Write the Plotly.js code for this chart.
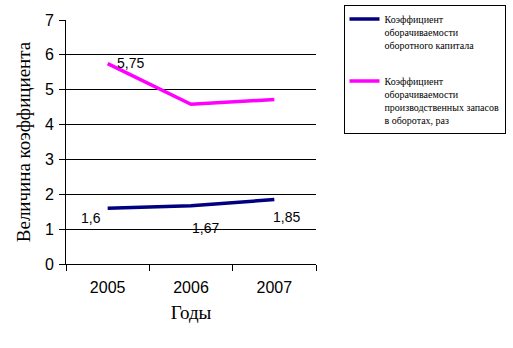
<!DOCTYPE html>
<html>
<head>
<meta charset="utf-8">
<script src="https://cdn.plot.ly/plotly-3.0.1.min.js"></script>
<style>html,body{margin:0;padding:0;background:#fff;}#chart{width:513px;height:348px;}</style>
</head>
<body>
<div id="chart"></div>
<script>
var years = ['2005', '2006', '2007'];
var capitalTurnover = [1.6, 1.67, 1.85];
var inventoryTurnover = [5.75, 4.58, 4.72];
var seriesNames = [
  'Коэффициент<br>оборачиваемости<br>оборотного капитала',
  'Коэффициент<br>оборачиваемости<br>производственных запасов<br>в оборотах, раз'
];
var yTicks = [0, 1, 2, 3, 4, 5, 6, 7];

// label placement (pixel offsets), kept separate from data
var capOffsets = [[-17, -10], [14, -22], [12, -17]];

function fmt(v) { return String(v).replace('.', ','); }

var annotations = [];
capitalTurnover.forEach(function (v, i) {
  annotations.push({
    x: i, y: v, xref: 'x', yref: 'y', text: fmt(v), showarrow: false,
    xshift: capOffsets[i][0], yshift: capOffsets[i][1],
    font: {family: 'Liberation Sans, Arial', size: 14, color: '#000'}
  });
});
annotations.push({
  x: 0, y: inventoryTurnover[0], xref: 'x', yref: 'y', text: fmt(inventoryTurnover[0]),
  showarrow: false, xanchor: 'left', xshift: 7, yshift: 1,
  font: {family: 'Liberation Sans, Arial', size: 14, color: '#000'}
});

var traces = [
  {x: years, y: capitalTurnover, type: 'scatter', mode: 'lines', name: seriesNames[0],
   line: {color: '#000080', width: 3.5}, legendgroup: 'a'},
  {x: years, y: inventoryTurnover, type: 'scatter', mode: 'lines', name: seriesNames[1],
   line: {color: '#FF00FF', width: 3.5}, legendgroup: 'b'}
];

var layout = {
  width: 513, height: 348,
  margin: {l: 66, r: 197, t: 20, b: 84, autoexpand: false},
  paper_bgcolor: '#fff', plot_bgcolor: '#fff',
  showlegend: true,
  legend: {
    x: 1.11, y: 1.061, xanchor: 'left', yanchor: 'top',
    bordercolor: '#000', borderwidth: 1, bgcolor: '#fff',
    font: {family: 'Liberation Serif, Times New Roman', size: 10, color: '#000'},
    valign: 'top', traceorder: 'grouped', tracegroupgap: 20
  },
  xaxis: {
    type: 'category', tickson: 'boundaries', ticks: 'outside', ticklen: 6, tickcolor: '#000',
    showline: true, linecolor: '#000', linewidth: 1, showgrid: false, zeroline: false,
    tickfont: {family: 'Liberation Sans, Arial', size: 16, color: '#000'},
    ticklabelstandoff: 9,
    range: [-0.5, 2.5],
    title: {text: 'Годы', font: {family: 'Liberation Serif, Times New Roman', size: 19, color: '#000'}, standoff: 10}
  },
  yaxis: {
    range: [0, 7], tickvals: yTicks, ticks: 'outside', ticklen: 6, tickcolor: '#000',
    showline: true, linecolor: '#000', linewidth: 1,
    showgrid: true, gridcolor: '#000', gridwidth: 1, zeroline: false,
    tickfont: {family: 'Liberation Sans, Arial', size: 16, color: '#000'},
    ticklabelstandoff: 2,
    title: {text: 'Величина коэффициента', font: {family: 'Liberation Serif, Times New Roman', size: 19, color: '#000'}, standoff: 9}
  },
  annotations: annotations
};

Plotly.newPlot('chart', traces, layout, {displayModeBar: false, staticPlot: true});
</script>
</body>
</html>
